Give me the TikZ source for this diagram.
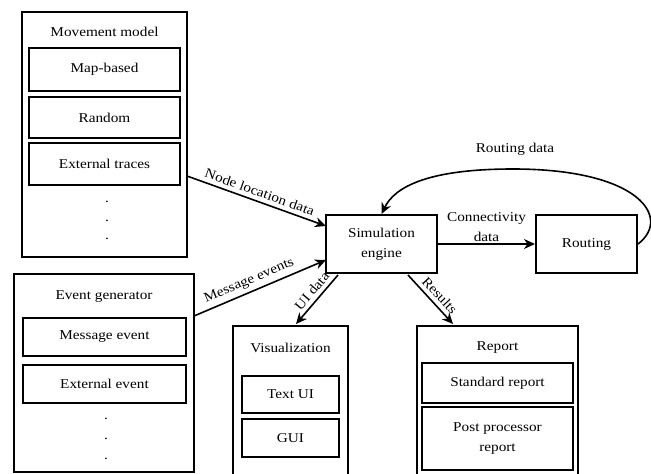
\documentclass[tikz,border=0pt]{standalone}
\usepackage{fontspec}
\setmainfont{Liberation Serif}[FakeStretch=1.13]
\usetikzlibrary{arrows.meta}
\begin{document}
\begin{tikzpicture}[x=1pt,y=-1pt, font=\fontsize{13.5}{20}\selectfont,
  box/.style={draw, line width=2pt, inner sep=0pt, align=center},
  lbl/.style={inner sep=4pt},
  flow/.style={line width=1.6pt, -{Stealth[length=11pt,width=10pt,inset=3.5pt]}},
  dotm/.style={inner sep=0pt}]
\useasboundingbox (0,0) rectangle (651,474);
\clip (0,0) rectangle (651,474);

% Movement model
\node[box, minimum width=165pt, minimum height=245pt] (mm) at (104.5,134.5) {};
\node (mmt) at (104.5,31.7) {Movement model};
\node[box, minimum width=151pt, minimum height=43pt] (map) at (104.5,69.5) {Map-based};
\node[box, minimum width=151pt, minimum height=41pt] (rnd) at (104.5,117.5) {Random};
\node[box, minimum width=151pt, minimum height=42pt] (ext) at (104.5,164) {External traces};
\node[dotm] (md1) at (107,202) {.};
\node[dotm] (md2) at (107,221) {.};
\node[dotm] (md3) at (107,239) {.};

% Event generator
\node[box, minimum width=180pt, minimum height=198pt] (eg) at (104,373) {};
\node (egt) at (104,297) {Event generator};
\node[box, minimum width=163pt, minimum height=38pt] (me) at (104.5,337) {Message event};
\node[box, minimum width=163pt, minimum height=38pt] (ee) at (104.5,384) {External event};
\node[dotm] (ed1) at (106,419) {.};
\node[dotm] (ed2) at (106,439) {.};
\node[dotm] (ed3) at (106,459) {.};

% Simulation engine and Routing
\node[box, minimum width=111pt, minimum height=58pt] (sim) at (381.5,244) {Simulation\\engine};
\node[box, minimum width=101pt, minimum height=58pt] (rout) at (586.5,244) {Routing};

% Visualization
\node[box, minimum width=115pt, minimum height=164pt] (vis) at (290.5,408) {};
\node (vist) at (290.5,348) {Visualization};
\node[box, minimum width=97pt, minimum height=37pt] (tui) at (290.5,394.5) {Text UI};
\node[box, minimum width=97pt, minimum height=38pt] (gui) at (290.5,438) {GUI};

% Report
\node[box, minimum width=161pt, minimum height=164pt] (rep) at (497.5,408) {};
\node (rept) at (497.5,348) {Report};
\node[box, minimum width=151pt, minimum height=40pt] (std) at (497.5,383) {Standard report};
\node[box, minimum width=151pt, minimum height=63pt] (ppr) at (497.5,438.5) {Post processor\\report};

% connector end points
\coordinate (a1s) at (187,176);
\coordinate (a1e) at (326,226);
\coordinate (a2s) at (194,316);
\coordinate (a2e) at (326,260);
\coordinate (a3s) at (338,275);
\coordinate (a3e) at (296,324);
\coordinate (a4s) at (408,275);
\coordinate (a4e) at (453,324);
\coordinate (top) at (513,169);

\draw[flow] (a1s) -- node[lbl, sloped, above, midway] {Node location data} (a1e);
\draw[flow] (a2s) -- node[lbl, sloped, above, pos=0.45] {Message events} (a2e);
\draw[flow] (a3s) -- node[lbl, sloped, above, pos=0.45] {UI data} (a3e);
\draw[flow] (a4s) -- node[lbl, sloped, above, pos=0.55] {Results} (a4e);
\draw[flow] (sim.east) -- node[above, align=center, inner sep=2pt] (cd) {Connectivity\\data} (rout.west);
\draw[flow] (rout.east) .. controls (672,218) and (640,169) .. (top)
  .. controls (430,169) and (395,186) .. (sim.north);
\node (rdl) at (515,149) {Routing data};
\end{tikzpicture}
\end{document}
